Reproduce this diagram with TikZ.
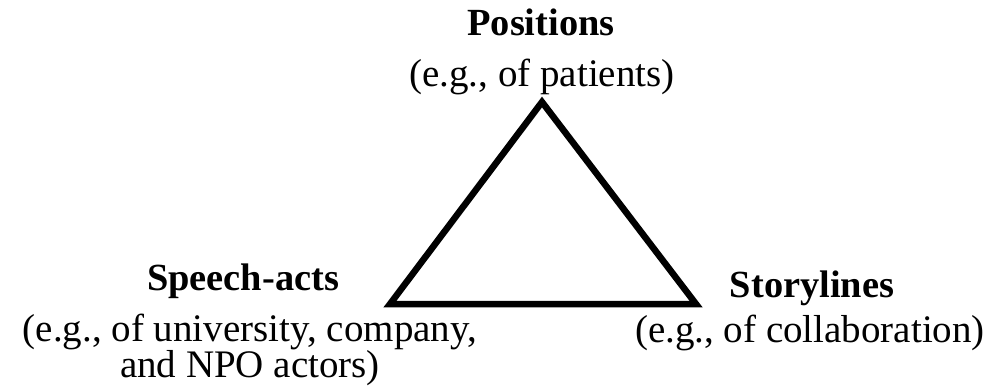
\documentclass[tikz,border=0pt]{standalone}
\usepackage{fontspec}
\setmainfont{Liberation Serif}
\usetikzlibrary{calc}

\begin{document}
\begin{tikzpicture}[x=1pt,y=1pt,
    head/.style={anchor=base,inner sep=0pt,font=\fontsize{38.4}{44}\selectfont\bfseries},
    note/.style={anchor=base,inner sep=0pt,align=center,font=\fontsize{39}{34.5}\selectfont}]
  % \draw (0, 0) grid (995, 386);
  \useasboundingbox (0,0) rectangle (995,386);

  \coordinate (top) at (542,284);
  \coordinate (left) at (390,82);
  \coordinate (right) at (696,82);
  \draw[line width=6.5pt,line join=miter] (top) -- (left) -- (right) -- cycle;

  \node[head] (pos) at (541,350) {Positions};
  \node[note] (posx) at (542,299) {(e.g., of patients)};

  % base of a two-line note is its last line
  \node[head] (speech) at (243,96) {Speech-acts};
  \node[note] (speechx) at (250,8.5) {(e.g., of university, company,\\ and NPO actors)};

  \node[head] (story) at (812,89) {Storylines};
  \node[note] (storyx) at (810,44) {(e.g., of collaboration)};
\end{tikzpicture}
\end{document}
